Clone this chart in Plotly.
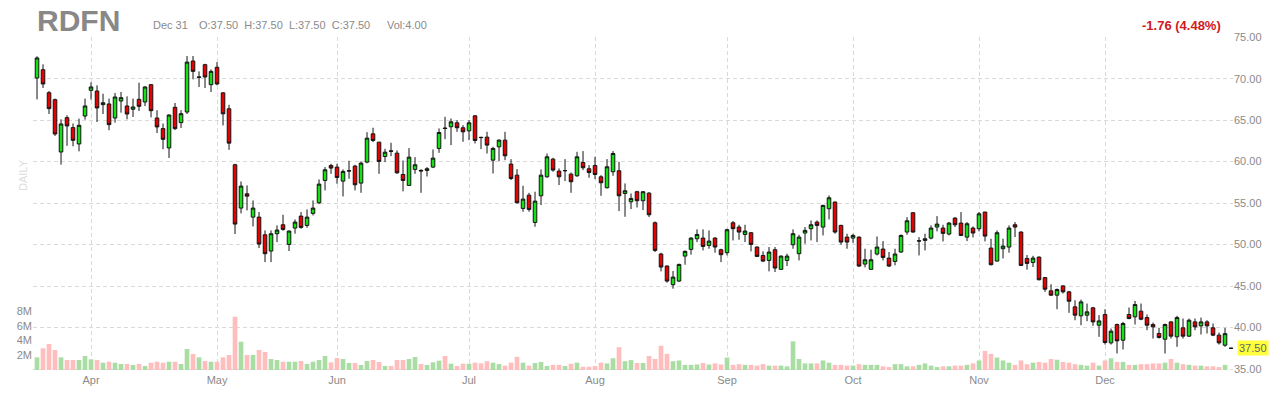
import pandas as pd
import plotly.graph_objects as go

# ---------------- data ----------------
symbol = "RDFN"
holidays = ["2021-04-02", "2021-05-31", "2021-07-05", "2021-09-06", "2021-11-25", "2021-12-24"]
dates = pd.bdate_range("2021-03-19", "2021-12-31", freq="C", holidays=holidays).strftime("%Y-%m-%d").tolist()
month_labels = ["Apr", "May", "Jun", "Jul", "Aug", "Sep", "Oct", "Nov", "Dec"]

open_ = [
    70.08, 71.08, 68.31, 67.47, 61.16, 65.30, 64.10, 62.13, 65.50,
    68.59, 68.51, 66.87, 66.95, 65.26, 67.31, 66.71, 66.31, 67.51, 67.19, 69.28, 65.26, 63.98, 61.65, 66.55, 64.70, 65.98, 72.13, 70.15, 71.69, 69.28,
    71.37, 68.29, 66.37, 59.62, 54.40, 56.12, 53.31, 53.31, 51.18, 49.22, 51.31, 52.39, 50.02, 51.99, 53.43, 52.31, 53.76, 55.04, 57.73, 59.54,
    59.34, 57.65, 58.86, 59.46, 57.41, 59.94, 63.35, 62.35, 60.62, 61.30, 61.02, 58.45, 57.13, 59.06, 58.95, 58.94, 59.34, 61.59, 64.05, 64.20, 64.68, 64.08,
    63.71, 65.52, 62.93, 62.95, 60.18, 61.79, 62.59, 59.70, 58.37, 54.36, 55.96, 52.67, 55.88, 58.17, 60.30, 58.86, 58.90, 58.49, 58.29, 59.90, 59.14,
    59.54, 58.17, 56.85, 58.78, 58.90, 56.16, 55.16, 56.37, 55.28, 56.20, 52.63, 48.86, 47.41, 45.16, 45.60, 48.61, 49.42, 50.70, 50.78, 49.90, 50.78, 49.38,
    49.02, 52.63, 52.11, 51.22, 51.43, 49.70, 48.69, 48.09, 49.38, 47.01, 48.09, 49.98, 48.90, 51.39, 51.91, 52.71, 52.11, 54.32, 55.12, 52.31, 50.90,
    50.78, 50.90, 47.65, 47.01, 48.86, 49.46, 48.37, 47.97, 49.10, 51.51, 53.84, 50.42, 50.50, 50.78, 52.11, 51.99, 51.27, 53.19, 52.59, 50.90, 51.99,
    51.91, 53.92, 49.58, 48.01, 49.50, 49.70, 52.39, 51.51, 48.33, 47.85, 48.49, 46.02, 44.42, 43.90, 45.02, 44.30, 42.49, 41.41, 41.49, 42.37, 40.28,
    41.57, 38.15, 40.36, 38.47, 41.57, 41.29, 41.97, 41.20, 40.36, 39.28, 38.59, 40.68, 38.88, 39.96, 38.96, 40.68, 40.20, 40.68, 39.96, 39.08, 37.87, 37.50,
]
high = [
    72.70, 71.73, 68.51, 67.60, 65.10, 65.58, 64.60, 65.18, 67.60,
    69.56, 69.20, 68.19, 67.60, 68.27, 68.40, 67.87, 67.60, 69.52, 69.10, 69.36, 66.20, 64.60, 65.70, 67.07, 66.20, 72.73, 72.73, 70.88, 71.80, 71.12,
    72.00, 68.37, 66.85, 59.74, 57.61, 57.13, 55.32, 53.92, 51.71, 51.71, 52.31, 53.59, 51.71, 53.03, 53.92, 54.24, 55.32, 57.85, 59.34, 59.74,
    59.74, 59.06, 60.10, 59.62, 60.02, 63.55, 64.08, 62.35, 61.55, 62.27, 61.35, 60.14, 61.63, 60.54, 59.06, 59.34, 61.47, 64.00, 65.40, 65.20, 65.00, 64.40,
    65.00, 65.60, 62.99, 63.59, 61.79, 62.67, 63.59, 60.30, 59.10, 57.09, 56.24, 56.37, 59.06, 60.98, 60.46, 59.18, 60.30, 58.69, 61.18, 61.27, 59.58,
    60.58, 58.37, 60.30, 61.27, 59.98, 57.37, 56.16, 56.49, 56.45, 56.33, 52.79, 49.02, 47.49, 46.81, 47.69, 49.30, 50.90, 51.83, 51.83, 51.71, 50.90, 49.50,
    51.91, 52.83, 52.39, 52.39, 51.51, 49.78, 49.18, 49.70, 49.70, 48.69, 48.90, 51.83, 51.18, 52.11, 52.91, 52.91, 54.80, 55.92, 55.20, 52.39, 51.31,
    51.31, 50.98, 49.50, 49.38, 50.98, 50.42, 49.10, 49.50, 51.22, 53.31, 53.92, 50.90, 51.31, 52.31, 53.43, 52.39, 52.71, 53.31, 53.92, 52.71, 52.19,
    53.92, 53.92, 50.70, 51.71, 50.70, 52.31, 52.71, 51.59, 48.74, 48.65, 48.57, 46.10, 45.22, 44.70, 45.10, 44.42, 43.29, 43.37, 42.89, 42.49, 41.49,
    42.21, 39.88, 40.48, 40.68, 42.41, 43.21, 42.89, 41.57, 40.60, 39.96, 40.48, 40.76, 41.41, 41.08, 41.08, 41.08, 41.20, 40.88, 40.48, 39.40, 39.96, 37.50,
]
low = [
    67.50, 68.88, 65.74, 63.10, 59.64, 61.90, 61.85, 61.24, 65.06,
    67.47, 64.78, 65.74, 63.78, 64.70, 65.90, 65.10, 65.38, 66.10, 66.70, 65.34, 63.45, 61.49, 60.44, 63.80, 64.06, 65.74, 69.92, 69.00, 68.88, 68.39,
    69.20, 64.36, 61.43, 51.27, 53.76, 54.12, 52.19, 49.58, 47.89, 47.89, 50.30, 51.67, 49.22, 51.31, 51.91, 52.03, 53.51, 54.88, 56.53, 58.53,
    57.33, 55.80, 57.93, 56.53, 56.24, 59.80, 62.35, 58.53, 59.94, 60.66, 58.53, 56.41, 57.13, 58.53, 56.24, 58.21, 59.22, 61.06, 62.71, 61.99, 63.59, 62.39,
    62.59, 62.19, 61.51, 60.98, 58.57, 60.06, 60.18, 57.77, 54.96, 53.96, 53.96, 52.15, 54.76, 58.05, 58.78, 57.17, 57.65, 56.24, 58.17, 58.98, 58.05,
    57.89, 55.88, 56.77, 58.29, 54.04, 53.35, 54.28, 54.48, 54.16, 53.31, 49.10, 46.77, 45.40, 44.68, 45.48, 47.57, 48.78, 50.30, 49.30, 49.50, 49.02, 47.89,
    48.69, 50.50, 50.58, 50.30, 49.18, 48.49, 47.89, 46.77, 46.69, 47.01, 47.41, 49.50, 48.09, 50.10, 50.50, 50.30, 51.10, 53.03, 51.31, 49.98, 49.50,
    50.22, 47.29, 47.25, 46.97, 48.69, 48.09, 47.29, 47.49, 49.02, 51.18, 51.43, 48.69, 49.30, 50.62, 51.59, 50.38, 51.10, 52.11, 51.02, 50.42, 50.86,
    51.59, 50.38, 47.49, 47.97, 48.33, 49.02, 50.90, 47.41, 46.97, 47.29, 45.68, 44.30, 43.82, 42.21, 44.10, 41.77, 40.88, 40.28, 40.76, 40.20, 38.88,
    37.95, 37.95, 36.87, 37.35, 41.00, 40.36, 40.88, 39.68, 38.67, 38.67, 36.87, 38.67, 37.67, 38.67, 38.88, 39.68, 39.16, 39.28, 38.96, 37.95, 37.67, 37.50,
]
close = [
    72.50, 69.36, 66.39, 63.33, 64.54, 64.30, 62.57, 64.38, 66.71,
    69.00, 66.47, 67.10, 64.46, 67.79, 67.71, 65.74, 66.59, 66.67, 69.00, 66.14, 64.18, 62.69, 65.62, 63.98, 65.78, 72.00, 70.88, 70.20, 70.20, 70.88,
    69.36, 65.76, 62.23, 52.47, 57.05, 55.84, 54.40, 50.06, 48.90, 51.31, 51.75, 51.83, 51.63, 52.71, 52.07, 53.31, 54.40, 57.29, 59.02, 59.22,
    58.09, 58.82, 58.90, 57.21, 59.82, 62.83, 62.55, 60.02, 61.14, 61.25, 58.65, 57.73, 60.54, 59.62, 58.88, 59.14, 60.42, 63.51, 64.00, 64.80, 64.08, 63.59,
    64.68, 62.55, 62.90, 61.99, 61.59, 62.59, 60.70, 57.97, 55.04, 55.48, 54.24, 55.24, 58.37, 60.58, 58.98, 58.17, 58.92, 57.57, 60.58, 59.26, 58.69,
    58.45, 57.45, 59.38, 60.98, 55.88, 56.49, 55.56, 55.28, 56.37, 53.59, 49.30, 47.29, 45.60, 46.08, 47.61, 49.18, 50.78, 51.22, 49.78, 50.42, 49.70, 48.78,
    51.79, 51.91, 51.51, 51.63, 50.02, 48.57, 48.01, 49.10, 47.17, 48.61, 48.61, 51.31, 50.90, 51.71, 52.39, 52.31, 54.72, 55.64, 51.51, 50.30, 50.30,
    51.10, 47.41, 48.17, 48.17, 49.70, 48.45, 47.41, 48.86, 51.10, 52.87, 51.51, 50.45, 50.70, 51.99, 52.47, 51.35, 52.59, 52.39, 51.10, 52.51, 51.39,
    53.71, 51.02, 47.57, 51.43, 49.82, 51.99, 52.11, 47.49, 47.73, 48.37, 45.76, 44.62, 43.90, 44.58, 44.30, 43.17, 41.49, 43.09, 41.89, 40.68, 40.80,
    38.19, 39.56, 38.39, 40.48, 41.08, 42.77, 41.00, 40.28, 40.08, 38.80, 40.36, 38.96, 41.20, 38.96, 40.88, 40.08, 40.68, 40.20, 39.08, 38.15, 39.26, 37.50,
]
volume_m = [
    1.73, 2.95, 3.54, 2.72, 1.73, 1.36, 1.36, 1.36, 1.90,
    1.45, 1.36, 0.99, 1.13, 0.99, 0.82, 0.82, 0.68, 0.82, 0.54, 0.99, 1.13, 0.99, 1.13, 1.13, 0.82, 2.86, 2.18, 1.73, 1.22, 1.13,
    1.13, 1.73, 2.04, 7.25, 3.85, 2.04, 2.04, 2.72, 2.45, 1.50, 1.36, 1.13, 1.13, 1.13, 1.22, 0.82, 1.13, 1.36, 1.90, 1.04,
    1.63, 1.50, 0.95, 0.95, 0.68, 1.22, 1.36, 1.09, 0.54, 0.54, 1.36, 1.36, 1.50, 1.77, 0.82, 0.68, 1.04, 1.27, 1.90, 0.86, 0.54, 0.86,
    0.86, 1.00, 0.90, 1.20, 1.00, 0.80, 0.60, 1.00, 1.80, 1.00, 0.60, 0.95, 1.10, 0.55, 0.70, 0.70, 0.55, 0.85, 1.00, 0.45, 0.45,
    0.55, 1.00, 0.90, 1.60, 3.10, 1.20, 1.35, 0.95, 0.95, 1.90, 1.50, 3.30, 2.20, 1.20, 1.30, 0.70, 0.70, 0.75, 0.95, 0.75, 0.90, 0.75,
    1.70, 0.70, 0.80, 0.70, 0.70, 0.60, 0.80, 0.60, 0.60, 0.60, 0.50, 3.90, 1.50, 0.90, 0.90, 0.90, 1.30, 1.00, 0.70, 0.70, 0.60,
    0.60, 0.80, 0.70, 0.70, 0.70, 0.50, 0.40, 0.80, 0.80, 0.50, 0.50, 0.70, 0.90, 0.60, 0.40, 0.50, 0.50, 0.60, 0.60, 0.70, 0.90,
    1.30, 2.60, 2.20, 1.70, 1.30, 1.00, 0.70, 1.30, 0.80, 1.00, 1.10, 1.00, 1.50, 1.40, 1.10, 1.00, 0.80, 0.70, 0.60, 1.00, 0.60,
    1.30, 1.60, 1.10, 1.10, 0.70, 0.70, 0.80, 0.80, 0.90, 0.90, 1.00, 1.50, 1.00, 0.80, 0.70, 0.60, 0.60, 0.50, 0.50, 0.40, 0.70, 0.000004,
]
volume_ticks = [2, 4, 6, 8]
price_ticks = [35, 40, 45, 50, 55, 60, 65, 70, 75]
last_change = "-1.76 (4.48%)"

# ---------------- figure ----------------
FONT = "Liberation Sans, Arial, sans-serif"
GRID = "#d9d9d9"
TXT = "#8a8a8a"

# the page body adds an 8px offset; the layout below is expressed in window pixels
PAGE = 8
W, H = 1280 - PAGE, 400 - PAGE
PL, PR, PT, PB = 33, 1233, 37, 372          # plot area in window pixels
ML, MT = PL - PAGE, PT - PAGE
MR, MB = W - (PR - PAGE), H - (PB - PAGE)
PW, PH = PR - PL, PB - PT


def px(x):
    return (x - PL) / PW


def py(y):
    return (PB - y) / PH


vol_colors = ["#a9dda3" if c >= o else "#ffbdbd" for o, c in zip(open_, close)]
month_starts = []
prev = None
for d in dates:
    m = d[:7]
    if prev is not None and m != prev:
        month_starts.append(d)
    prev = m

fig = go.Figure()
fig.add_trace(go.Bar(
    x=dates, y=volume_m, marker=dict(color=vol_colors, line=dict(width=0)),
    yaxis="y", hoverinfo="skip", showlegend=False,
))
fig.add_trace(go.Candlestick(
    x=dates, open=open_, high=high, low=low, close=close, yaxis="y2",
    increasing=dict(fillcolor="#14e014", line=dict(color="#141414", width=1)),
    decreasing=dict(fillcolor="#e60000", line=dict(color="#141414", width=1)),
    whiskerwidth=0, showlegend=False,
))

fig.update_layout(
    width=W, height=H,
    margin=dict(l=ML, r=MR, t=MT, b=MB, autoexpand=False),
    paper_bgcolor="white", plot_bgcolor="white",
    font=dict(family=FONT, size=11, color=TXT),
    bargap=0.22, boxgap=0.15,
    showlegend=False,
    xaxis=dict(
        type="category", range=[-0.67, len(dates) - 0.67], automargin=False,
        tickmode="array", tickvals=month_starts[:len(month_labels)], ticktext=month_labels,
        showgrid=True, gridcolor=GRID, griddash="4px,3px", gridwidth=1,
        showline=False, zeroline=False, ticks="", rangeslider=dict(visible=False),
        tickfont=dict(size=11, color=TXT),
    ),
    yaxis=dict(
        range=[-0.27, 45.31], side="left", tickvals=volume_ticks, automargin=False,
        ticktext=[f"{v}M" for v in volume_ticks], showgrid=False, zeroline=False,
        showline=False, ticks="", tickfont=dict(size=11, color=TXT),
    ),
    yaxis2=dict(
        overlaying="y", side="right", range=[34.638, 75.024], automargin=False,
        tickvals=price_ticks, ticktext=[f"{v:.2f}" for v in price_ticks],
        showgrid=True, gridcolor=GRID, griddash="4px,3px", gridwidth=1,
        zeroline=False, showline=False, ticks="", tickfont=dict(size=11, color=TXT),
    ),
)

anns = [
    dict(text=f"<b>{symbol}</b>", x=36, y=21, font=dict(size=30, color="#888888"), xanchor="left"),
    dict(text="Dec 31", x=152, y=25, font=dict(size=11, color=TXT), xanchor="left"),
    dict(text=f"O:{open_[-1]:.2f}  H:{high[-1]:.2f}  L:{low[-1]:.2f}  C:{close[-1]:.2f}",
         x=198, y=25, font=dict(size=11, color=TXT), xanchor="left"),
    dict(text="Vol:4.00", x=386, y=25, font=dict(size=11, color=TXT), xanchor="left"),
    dict(text=f"<b>{last_change}</b>", x=1222, y=25, font=dict(size=13, color="#d0191c"), xanchor="right"),
]
for a in anns:
    fig.add_annotation(
        text=a["text"], xref="paper", yref="paper", x=px(a["x"]), y=py(a["y"]),
        xanchor=a["xanchor"], yanchor="middle", showarrow=False, borderpad=0,
        font=dict(family=FONT, **a["font"]),
    )

fig.add_annotation(
    text="DAILY", xref="paper", yref="paper", x=px(23), y=py(175),
    textangle=-90, showarrow=False, font=dict(family=FONT, size=11, color="#dddddd"),
    xanchor="center", yanchor="middle",
)
fig.add_annotation(
    text=f"{close[-1]:.2f}", xref="paper", yref="y2", x=px(1237), y=close[-1],
    xanchor="left", yanchor="middle", showarrow=False, bgcolor="#ffff3b", borderpad=1,
    font=dict(family=FONT, size=11, color="#666666"),
)

fig.write_html("out.html")
